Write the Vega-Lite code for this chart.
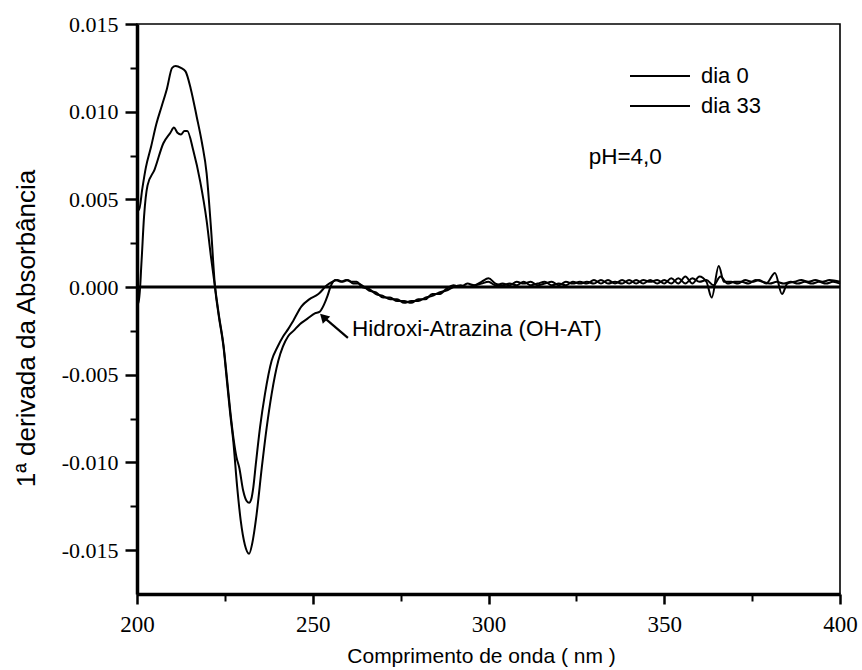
{
  "$schema": "https://vega.github.io/schema/vega-lite/v6.json",
  "width": 703,
  "height": 570,
  "autosize": {"type": "none"},
  "padding": {"left": 137, "top": 24, "right": 22, "bottom": 76},
  "background": "white",
  "config": {
    "view": {"stroke": "black", "strokeWidth": 1.6},
    "axis": {"domainColor": "black", "tickColor": "black", "labelColor": "black", "titleColor": "black", "grid": false, "labelFlush": false}
  },
  "datasets": {
    "curves": [
      {"serie": "dia 33", "nm": 200, "v": 0.0047},
      {"serie": "dia 33", "nm": 200.6, "v": 0.0044},
      {"serie": "dia 33", "nm": 201.5, "v": 0.0056},
      {"serie": "dia 33", "nm": 202.5, "v": 0.0068},
      {"serie": "dia 33", "nm": 204, "v": 0.0080},
      {"serie": "dia 33", "nm": 205.5, "v": 0.0093},
      {"serie": "dia 33", "nm": 207, "v": 0.0103},
      {"serie": "dia 33", "nm": 208.5, "v": 0.0113},
      {"serie": "dia 33", "nm": 210, "v": 0.0125},
      {"serie": "dia 33", "nm": 211, "v": 0.0126},
      {"serie": "dia 33", "nm": 212.5, "v": 0.0125},
      {"serie": "dia 33", "nm": 213.8, "v": 0.0123},
      {"serie": "dia 33", "nm": 215.3, "v": 0.0113},
      {"serie": "dia 33", "nm": 217, "v": 0.0097},
      {"serie": "dia 33", "nm": 218.5, "v": 0.0082},
      {"serie": "dia 33", "nm": 219.8, "v": 0.0065},
      {"serie": "dia 33", "nm": 221, "v": 0.0035},
      {"serie": "dia 33", "nm": 222.2, "v": 0.0},
      {"serie": "dia 33", "nm": 223.3, "v": -0.0017},
      {"serie": "dia 33", "nm": 224.6, "v": -0.0034},
      {"serie": "dia 33", "nm": 225.5, "v": -0.0052},
      {"serie": "dia 33", "nm": 226.5, "v": -0.0072},
      {"serie": "dia 33", "nm": 227.4, "v": -0.0088},
      {"serie": "dia 33", "nm": 228.5, "v": -0.0114},
      {"serie": "dia 33", "nm": 229.5, "v": -0.0133},
      {"serie": "dia 33", "nm": 230.7, "v": -0.0147},
      {"serie": "dia 33", "nm": 231.9, "v": -0.0152},
      {"serie": "dia 33", "nm": 232.8, "v": -0.0146},
      {"serie": "dia 33", "nm": 234.0, "v": -0.0130},
      {"serie": "dia 33", "nm": 235.5, "v": -0.0103},
      {"serie": "dia 33", "nm": 236.9, "v": -0.0080},
      {"serie": "dia 33", "nm": 238.3, "v": -0.0061},
      {"serie": "dia 33", "nm": 240.2, "v": -0.0042},
      {"serie": "dia 33", "nm": 241.5, "v": -0.0034},
      {"serie": "dia 33", "nm": 243.0, "v": -0.0028},
      {"serie": "dia 33", "nm": 244.5, "v": -0.0025},
      {"serie": "dia 33", "nm": 246.4, "v": -0.0021},
      {"serie": "dia 33", "nm": 248.5, "v": -0.0018},
      {"serie": "dia 33", "nm": 250.6, "v": -0.0015},
      {"serie": "dia 33", "nm": 252, "v": -0.0014},
      {"serie": "dia 33", "nm": 253.2, "v": -0.0010},
      {"serie": "dia 33", "nm": 254.2, "v": -0.0005},
      {"serie": "dia 33", "nm": 255.2, "v": 0.0001},
      {"serie": "dia 33", "nm": 256.5, "v": 0.0004},
      {"serie": "dia 33", "nm": 258, "v": 0.0003},
      {"serie": "dia 33", "nm": 259.5, "v": 0.0004},
      {"serie": "dia 33", "nm": 261, "v": 0.0003},
      {"serie": "dia 33", "nm": 262.5, "v": 0.0003},
      {"serie": "dia 33", "nm": 264, "v": 0.0},
      {"serie": "dia 33", "nm": 266, "v": -0.0001},
      {"serie": "dia 33", "nm": 268, "v": -0.0004},
      {"serie": "dia 33", "nm": 270, "v": -0.0005},
      {"serie": "dia 33", "nm": 272, "v": -0.0007},
      {"serie": "dia 33", "nm": 274, "v": -0.0007},
      {"serie": "dia 33", "nm": 276, "v": -0.0009},
      {"serie": "dia 33", "nm": 278, "v": -0.0008},
      {"serie": "dia 33", "nm": 280, "v": -0.0008},
      {"serie": "dia 33", "nm": 282, "v": -0.0006},
      {"serie": "dia 33", "nm": 284, "v": -0.0005},
      {"serie": "dia 33", "nm": 286, "v": -0.0003},
      {"serie": "dia 33", "nm": 288, "v": -0.0002},
      {"serie": "dia 33", "nm": 290, "v": 0.0},
      {"serie": "dia 33", "nm": 292, "v": 0.0001},
      {"serie": "dia 33", "nm": 294, "v": 0.0},
      {"serie": "dia 33", "nm": 296, "v": 0.0001},
      {"serie": "dia 33", "nm": 298, "v": 0.0003},
      {"serie": "dia 33", "nm": 300, "v": 0.0005},
      {"serie": "dia 33", "nm": 302, "v": 0.0002},
      {"serie": "dia 33", "nm": 304, "v": 0.0001},
      {"serie": "dia 33", "nm": 306, "v": 0.0002},
      {"serie": "dia 33", "nm": 308, "v": 0.0001},
      {"serie": "dia 33", "nm": 310, "v": 0.0003},
      {"serie": "dia 33", "nm": 312, "v": 0.0001},
      {"serie": "dia 33", "nm": 314, "v": 0.0002},
      {"serie": "dia 33", "nm": 316, "v": 0.0003},
      {"serie": "dia 33", "nm": 318, "v": 0.0001},
      {"serie": "dia 33", "nm": 320, "v": 0.0002},
      {"serie": "dia 33", "nm": 322, "v": 0.0001},
      {"serie": "dia 33", "nm": 324, "v": 0.0003},
      {"serie": "dia 33", "nm": 326, "v": 0.0002},
      {"serie": "dia 33", "nm": 328, "v": 0.0003},
      {"serie": "dia 33", "nm": 330, "v": 0.0002},
      {"serie": "dia 33", "nm": 332, "v": 0.0004},
      {"serie": "dia 33", "nm": 334, "v": 0.0002},
      {"serie": "dia 33", "nm": 336, "v": 0.0003},
      {"serie": "dia 33", "nm": 338, "v": 0.0002},
      {"serie": "dia 33", "nm": 340, "v": 0.0004},
      {"serie": "dia 33", "nm": 342, "v": 0.0002},
      {"serie": "dia 33", "nm": 344, "v": 0.0004},
      {"serie": "dia 33", "nm": 346, "v": 0.0003},
      {"serie": "dia 33", "nm": 348, "v": 0.0004},
      {"serie": "dia 33", "nm": 350, "v": 0.0002},
      {"serie": "dia 33", "nm": 352, "v": 0.0005},
      {"serie": "dia 33", "nm": 354, "v": 0.0002},
      {"serie": "dia 33", "nm": 356, "v": 0.0006},
      {"serie": "dia 33", "nm": 358, "v": 0.0002},
      {"serie": "dia 33", "nm": 360, "v": 0.0006},
      {"serie": "dia 33", "nm": 362, "v": 0.0003},
      {"serie": "dia 33", "nm": 363.5, "v": -0.0006},
      {"serie": "dia 33", "nm": 365.5, "v": 0.0012},
      {"serie": "dia 33", "nm": 367, "v": 0.0003},
      {"serie": "dia 33", "nm": 369, "v": 0.0003},
      {"serie": "dia 33", "nm": 371, "v": 0.0002},
      {"serie": "dia 33", "nm": 373, "v": 0.0004},
      {"serie": "dia 33", "nm": 375, "v": 0.0003},
      {"serie": "dia 33", "nm": 377, "v": 0.0004},
      {"serie": "dia 33", "nm": 379, "v": 0.0002},
      {"serie": "dia 33", "nm": 381.5, "v": 0.0008},
      {"serie": "dia 33", "nm": 383.5, "v": -0.0004},
      {"serie": "dia 33", "nm": 385, "v": 0.0002},
      {"serie": "dia 33", "nm": 387, "v": 0.0003},
      {"serie": "dia 33", "nm": 389, "v": 0.0004},
      {"serie": "dia 33", "nm": 391, "v": 0.0003},
      {"serie": "dia 33", "nm": 393, "v": 0.0004},
      {"serie": "dia 33", "nm": 395, "v": 0.0003},
      {"serie": "dia 33", "nm": 397, "v": 0.0004},
      {"serie": "dia 33", "nm": 400, "v": 0.0003},
      {"serie": "dia 0", "nm": 200, "v": -0.0002},
      {"serie": "dia 0", "nm": 200.5, "v": -0.0009},
      {"serie": "dia 0", "nm": 201.3, "v": 0.0015},
      {"serie": "dia 0", "nm": 202, "v": 0.0040},
      {"serie": "dia 0", "nm": 203, "v": 0.0058},
      {"serie": "dia 0", "nm": 205, "v": 0.0067},
      {"serie": "dia 0", "nm": 207.5, "v": 0.0082},
      {"serie": "dia 0", "nm": 209.5, "v": 0.0088},
      {"serie": "dia 0", "nm": 210.5, "v": 0.0091},
      {"serie": "dia 0", "nm": 211.5, "v": 0.0088},
      {"serie": "dia 0", "nm": 212.5, "v": 0.0087},
      {"serie": "dia 0", "nm": 213.5, "v": 0.0089},
      {"serie": "dia 0", "nm": 214.3, "v": 0.0089},
      {"serie": "dia 0", "nm": 216, "v": 0.0078},
      {"serie": "dia 0", "nm": 218, "v": 0.0060},
      {"serie": "dia 0", "nm": 219.8, "v": 0.0038},
      {"serie": "dia 0", "nm": 221, "v": 0.0018},
      {"serie": "dia 0", "nm": 222.2, "v": 0.0},
      {"serie": "dia 0", "nm": 223.3, "v": -0.0016},
      {"serie": "dia 0", "nm": 224.6, "v": -0.0033},
      {"serie": "dia 0", "nm": 225.5, "v": -0.0050},
      {"serie": "dia 0", "nm": 226.5, "v": -0.0070},
      {"serie": "dia 0", "nm": 227.5, "v": -0.0087},
      {"serie": "dia 0", "nm": 228.3, "v": -0.0097},
      {"serie": "dia 0", "nm": 229.1, "v": -0.0103},
      {"serie": "dia 0", "nm": 230.2, "v": -0.0116},
      {"serie": "dia 0", "nm": 231.2, "v": -0.0122},
      {"serie": "dia 0", "nm": 231.9, "v": -0.0123},
      {"serie": "dia 0", "nm": 232.5, "v": -0.0121},
      {"serie": "dia 0", "nm": 233.1, "v": -0.0114},
      {"serie": "dia 0", "nm": 233.8, "v": -0.0101},
      {"serie": "dia 0", "nm": 235.0, "v": -0.0080},
      {"serie": "dia 0", "nm": 236.4, "v": -0.0061},
      {"serie": "dia 0", "nm": 238.3, "v": -0.0042},
      {"serie": "dia 0", "nm": 240, "v": -0.0034},
      {"serie": "dia 0", "nm": 241.6, "v": -0.0028},
      {"serie": "dia 0", "nm": 243, "v": -0.0024},
      {"serie": "dia 0", "nm": 244.5, "v": -0.0019},
      {"serie": "dia 0", "nm": 246.8, "v": -0.0011},
      {"serie": "dia 0", "nm": 249, "v": -0.0007},
      {"serie": "dia 0", "nm": 251.6, "v": -0.0004},
      {"serie": "dia 0", "nm": 254, "v": 0.0001},
      {"serie": "dia 0", "nm": 255.5, "v": 0.0003},
      {"serie": "dia 0", "nm": 257, "v": 0.0004},
      {"serie": "dia 0", "nm": 258.5, "v": 0.0003},
      {"serie": "dia 0", "nm": 260, "v": 0.0004},
      {"serie": "dia 0", "nm": 261.5, "v": 0.0002},
      {"serie": "dia 0", "nm": 263, "v": 0.0002},
      {"serie": "dia 0", "nm": 264, "v": 0.0001},
      {"serie": "dia 0", "nm": 266, "v": -0.0002},
      {"serie": "dia 0", "nm": 268, "v": -0.0003},
      {"serie": "dia 0", "nm": 270, "v": -0.0006},
      {"serie": "dia 0", "nm": 272, "v": -0.0006},
      {"serie": "dia 0", "nm": 274, "v": -0.0008},
      {"serie": "dia 0", "nm": 276, "v": -0.0008},
      {"serie": "dia 0", "nm": 278, "v": -0.0009},
      {"serie": "dia 0", "nm": 280, "v": -0.0007},
      {"serie": "dia 0", "nm": 282, "v": -0.0007},
      {"serie": "dia 0", "nm": 284, "v": -0.0004},
      {"serie": "dia 0", "nm": 286, "v": -0.0004},
      {"serie": "dia 0", "nm": 288, "v": -0.0001},
      {"serie": "dia 0", "nm": 290, "v": 0.0001},
      {"serie": "dia 0", "nm": 292, "v": 0.0},
      {"serie": "dia 0", "nm": 294, "v": 0.0002},
      {"serie": "dia 0", "nm": 296, "v": 0.0001},
      {"serie": "dia 0", "nm": 298, "v": 0.0002},
      {"serie": "dia 0", "nm": 300, "v": 0.0003},
      {"serie": "dia 0", "nm": 302, "v": 0.0001},
      {"serie": "dia 0", "nm": 304, "v": 0.0002},
      {"serie": "dia 0", "nm": 306, "v": 0.0001},
      {"serie": "dia 0", "nm": 308, "v": 0.0003},
      {"serie": "dia 0", "nm": 310, "v": 0.0002},
      {"serie": "dia 0", "nm": 312, "v": 0.0003},
      {"serie": "dia 0", "nm": 314, "v": 0.0001},
      {"serie": "dia 0", "nm": 316, "v": 0.0002},
      {"serie": "dia 0", "nm": 318, "v": 0.0003},
      {"serie": "dia 0", "nm": 320, "v": 0.0001},
      {"serie": "dia 0", "nm": 322, "v": 0.0003},
      {"serie": "dia 0", "nm": 324, "v": 0.0002},
      {"serie": "dia 0", "nm": 326, "v": 0.0003},
      {"serie": "dia 0", "nm": 328, "v": 0.0002},
      {"serie": "dia 0", "nm": 330, "v": 0.0004},
      {"serie": "dia 0", "nm": 332, "v": 0.0002},
      {"serie": "dia 0", "nm": 334, "v": 0.0004},
      {"serie": "dia 0", "nm": 336, "v": 0.0002},
      {"serie": "dia 0", "nm": 338, "v": 0.0004},
      {"serie": "dia 0", "nm": 340, "v": 0.0002},
      {"serie": "dia 0", "nm": 342, "v": 0.0004},
      {"serie": "dia 0", "nm": 344, "v": 0.0002},
      {"serie": "dia 0", "nm": 346, "v": 0.0004},
      {"serie": "dia 0", "nm": 348, "v": 0.0002},
      {"serie": "dia 0", "nm": 350, "v": 0.0004},
      {"serie": "dia 0", "nm": 352, "v": 0.0002},
      {"serie": "dia 0", "nm": 354, "v": 0.0005},
      {"serie": "dia 0", "nm": 356, "v": 0.0002},
      {"serie": "dia 0", "nm": 358, "v": 0.0005},
      {"serie": "dia 0", "nm": 360, "v": 0.0003},
      {"serie": "dia 0", "nm": 362, "v": 0.0004},
      {"serie": "dia 0", "nm": 364, "v": 0.0001},
      {"serie": "dia 0", "nm": 366, "v": 0.0006},
      {"serie": "dia 0", "nm": 368, "v": 0.0002},
      {"serie": "dia 0", "nm": 370, "v": 0.0003},
      {"serie": "dia 0", "nm": 372, "v": 0.0003},
      {"serie": "dia 0", "nm": 374, "v": 0.0002},
      {"serie": "dia 0", "nm": 376, "v": 0.0004},
      {"serie": "dia 0", "nm": 378, "v": 0.0003},
      {"serie": "dia 0", "nm": 380, "v": 0.0002},
      {"serie": "dia 0", "nm": 382, "v": 0.0003},
      {"serie": "dia 0", "nm": 384, "v": 0.0002},
      {"serie": "dia 0", "nm": 386, "v": 0.0003},
      {"serie": "dia 0", "nm": 388, "v": 0.0002},
      {"serie": "dia 0", "nm": 390, "v": 0.0003},
      {"serie": "dia 0", "nm": 392, "v": 0.0002},
      {"serie": "dia 0", "nm": 394, "v": 0.0003},
      {"serie": "dia 0", "nm": 396, "v": 0.0002},
      {"serie": "dia 0", "nm": 398, "v": 0.0003},
      {"serie": "dia 0", "nm": 400, "v": 0.0002}
    ],
    "zero": [{"v": 0}],
    "notes": [
      {"nm": 328.5, "v": 0.0074, "label": "pH=4,0"},
      {"nm": 261.2, "v": -0.0024, "label": "Hidroxi-Atrazina (OH-AT)"}
    ],
    "arrow": [{"nm": 260.0, "v": -0.0029, "nm2": 253.0, "v2": -0.0017}]
  },
  "layer": [
    {
      "data": {"name": "zero"},
      "mark": {"type": "rule", "color": "black", "strokeWidth": 3},
      "encoding": {
        "y": {
          "field": "v", "type": "quantitative",
          "scale": {"domain": [-0.0175, 0.015], "nice": false, "zero": false},
          "axis": {"orient": "left", "values": [0.0125, 0.0075, 0.0025, -0.0025, -0.0075, -0.0125], "labels": false, "domain": false, "tickSize": 7, "tickWidth": 2, "title": null}
        }
      }
    },
    {
      "data": {"name": "curves"},
      "mark": {"type": "line", "interpolate": "monotone", "strokeWidth": 2},
      "encoding": {
        "x": {
          "field": "nm", "type": "quantitative",
          "scale": {"domain": [200, 400], "nice": false, "zero": false},
          "axis": {
            "orient": "bottom", "values": [200, 250, 300, 350, 400], "format": "d",
            "domain": true, "domainWidth": 3.5, "domainColor": "black",
            "labelFont": "Liberation Serif", "labelFontSize": 23, "labelPadding": 9,
            "tickSize": 10, "tickWidth": 2.5,
            "title": "Comprimento de onda ( nm )", "titleFont": "Liberation Sans", "titleFontSize": 21, "titleFontWeight": "normal",
            "titleX": 344, "titleY": 62, "titleBaseline": "middle", "titleAlign": "center"
          }
        },
        "y": {
          "field": "v", "type": "quantitative",
          "scale": {"domain": [-0.0175, 0.015], "nice": false, "zero": false},
          "axis": {
            "orient": "left", "values": [-0.015, -0.01, -0.005, 0, 0.005, 0.01, 0.015],
            "labelExpr": "replace(format(datum.value, '.3f'), '\u2212', '-')",
            "domain": true, "domainWidth": 3.5, "domainColor": "black",
            "labelFont": "Liberation Serif", "labelFontSize": 22, "labelPadding": 7,
            "tickSize": 12, "tickWidth": 2.5,
            "title": "1ª derivada da Absorbância", "titleFont": "Liberation Sans", "titleFontSize": 26, "titleFontWeight": "normal",
            "titleAngle": 270, "titleX": -111, "titleY": 304, "titleBaseline": "middle", "titleAlign": "center"
          }
        },
        "color": {
          "field": "serie", "type": "nominal",
          "scale": {"domain": ["dia 0", "dia 33"], "range": ["black", "black"]},
          "legend": {
            "orient": "none", "legendX": 492, "legendY": 41, "title": null,
            "labelFont": "Liberation Sans", "labelFontSize": 22, "labelColor": "black",
            "symbolType": "M-1,0H5", "symbolSize": 400, "symbolStrokeColor": "black", "symbolStrokeWidth": 2, "symbolFillColor": "transparent",
            "labelOffset": 50, "rowPadding": 8
          }
        },
        "order": {"field": "nm", "type": "quantitative"}
      }
    },
    {
      "data": {"name": "notes"},
      "mark": {"type": "text", "align": "left", "baseline": "middle", "font": "Liberation Sans", "fontSize": 22.5, "color": "black"},
      "encoding": {
        "x": {"field": "nm", "type": "quantitative", "axis": {"orient": "bottom", "values": [225, 275, 325, 375], "labels": false, "domain": false, "tickSize": 7, "tickWidth": 2, "title": null}},
        "y": {"field": "v", "type": "quantitative", "axis": null},
        "text": {"field": "label"}
      }
    },
    {
      "data": {"name": "arrow"},
      "mark": {"type": "rule", "color": "black", "strokeWidth": 2.2},
      "encoding": {
        "x": {"field": "nm", "type": "quantitative", "axis": null},
        "y": {"field": "v", "type": "quantitative", "axis": null},
        "x2": {"field": "nm2"},
        "y2": {"field": "v2"}
      }
    },
    {
      "data": {"name": "arrow"},
      "mark": {"type": "point", "shape": "triangle-up", "filled": true, "color": "black", "size": 110, "angle": 315, "opacity": 1},
      "encoding": {
        "x": {"field": "nm2", "type": "quantitative", "axis": null},
        "y": {"field": "v2", "type": "quantitative", "axis": null}
      }
    }
  ],
  "resolve": {"axis": {"x": "independent", "y": "independent"}}
}
